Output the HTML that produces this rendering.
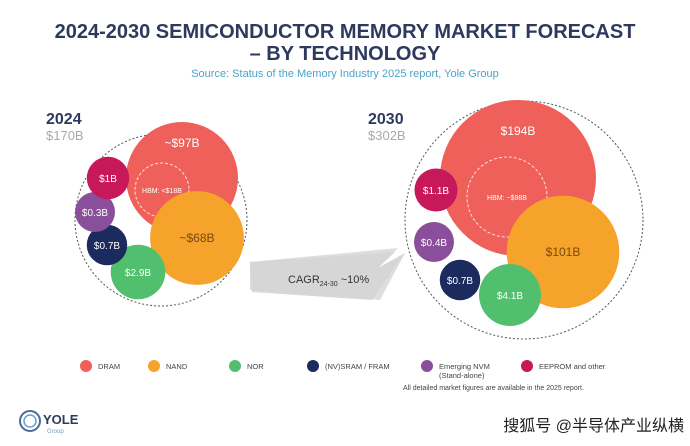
<!DOCTYPE html>
<html><head><meta charset="utf-8">
<style>
body{margin:0;width:690px;height:446px;background:#fff;overflow:hidden;font-family:"Liberation Sans","Noto Sans CJK SC",sans-serif}
svg{display:block}
</style></head>
<body>
<svg id="chart" width="690" height="446" viewBox="0 0 690 446">
<text x="345" y="38" text-anchor="middle" font-size="20" font-weight="bold" fill="#2d3a5e">2024-2030 SEMICONDUCTOR MEMORY MARKET FORECAST</text>
<text x="345" y="60" text-anchor="middle" font-size="20" font-weight="bold" fill="#2d3a5e">– BY TECHNOLOGY</text>
<text x="345" y="77" text-anchor="middle" font-size="11" fill="#4aa3c8">Source: Status of the Memory Industry 2025 report, Yole Group</text>

<text x="46" y="124" font-size="16" font-weight="bold" fill="#2d3a5e">2024</text>
<text x="46" y="140" font-size="13" fill="#aaa">$170B</text>
<text x="368" y="124" font-size="16" font-weight="bold" fill="#2d3a5e">2030</text>
<text x="368" y="140" font-size="13" fill="#aaa">$302B</text>

<polygon points="250,262 395,252 378,268 405,253 372,300 252,292" fill="#d8d8d8"/>
<polygon points="250,262 398,248 378,268 405,253 380,300 250,290" fill="#d6d6d6" opacity="0.8"/>
<text x="288" y="283" font-size="11" fill="#333">CAGR<tspan font-size="7" dy="3">24-30</tspan><tspan dy="-3"> ~10%</tspan></text>

<circle cx="161" cy="220" r="86" fill="none" stroke="#555" stroke-width="1" stroke-dasharray="2,2"/>
<circle cx="524" cy="220" r="119" fill="none" stroke="#555" stroke-width="1" stroke-dasharray="2,2"/>
<g id="bubbles"></g>

<g id="legend"></g>
<text x="403" y="390" font-size="7" fill="#444">All detailed market figures are available in the 2025 report.</text>

<g>
<circle cx="30" cy="421" r="10" fill="none" stroke="#4a6b9a" stroke-width="2"/>
<circle cx="30" cy="421" r="6" fill="none" stroke="#6ca0c8" stroke-width="1.5"/>
<text x="43" y="424" font-size="13" font-weight="bold" fill="#2d3a5e">YOLE</text>
<text x="47" y="433" font-size="6" fill="#6ca0c8">Group</text>
</g>
<text x="684" y="431" text-anchor="end" font-size="16" fill="#222">搜狐号 @半导体产业纵横</text>
</svg>
<script>
const categories=["DRAM","NAND","NOR","(NV)SRAM / FRAM","Emerging NVM","EEPROM and other"];
const colors=["#f0605a","#f5a32a","#52bf6e","#1c2b5e","#8a4f9a","#c6185a"];
const values2024=[97,68,2.9,0.7,0.3,1];
const labels2024=["~$97B","~$68B","$2.9B","$0.7B","$0.3B","$1B"];
const values2030=[194,101,4.1,0.7,0.4,1.1];
const labels2030=["$194B","$101B","$4.1B","$0.7B","$0.4B","$1.1B"];
const hbm2024="HBM: <$18B", hbm2030="HBM: ~$98B";
const layout2024={c:[[182,178],[197,238],[138,272],[107,245],[95,212],[108,178]],big:56,bigRef:97};
const layout2030={c:[[518,178],[563,252],[510,295],[460,280],[434,242],[436,190]],big:78,bigRef:194};
const NS="http://www.w3.org/2000/svg";
const g=document.getElementById("bubbles");
function rad(v,L,i){ if(i<2) return L.big*Math.sqrt(v/L.bigRef); return Math.max(20,Math.min(31,18+v*3.2));}
function draw(vals,labs,L,yr,hbm,hc,hr){
  vals.forEach((v,i)=>{
    const c=document.createElementNS(NS,"circle");
    c.setAttribute("cx",L.c[i][0]);c.setAttribute("cy",L.c[i][1]);
    c.setAttribute("r",rad(v,L,i));c.setAttribute("fill",colors[i]);
    
    
    g.appendChild(c);
    if(i===0){
      const h=document.createElementNS(NS,"circle");
      h.setAttribute("cx",hc[0]);h.setAttribute("cy",hc[1]);h.setAttribute("r",hr);
      h.setAttribute("fill","none");h.setAttribute("stroke","#fff");h.setAttribute("stroke-dasharray","3,2");h.setAttribute("opacity","0.8");
      
      
      g.appendChild(h);
      const ht=document.createElementNS(NS,"text");
      ht.setAttribute("x",hc[0]);ht.setAttribute("y",hc[1]+3);ht.setAttribute("text-anchor","middle");
      ht.setAttribute("font-size","7");ht.setAttribute("fill","#fff");ht.textContent=hbm;
      
      
      g.appendChild(ht);
    }
  });
  vals.forEach((v,i)=>{
    const t=document.createElementNS(NS,"text");
    let y=L.c[i][1]+4; if(i===0) y=L.c[i][1]-L.big*0.55;
    t.setAttribute("x",L.c[i][0]);t.setAttribute("y",y);t.setAttribute("text-anchor","middle");
    t.setAttribute("font-size",i<2?"12":"10");t.setAttribute("fill",i===1?"#7a4a10":"#fff");
    t.textContent=labs[i];
    
    
    g.appendChild(t);
  });
}
draw(values2024,labels2024,layout2024,"2024",hbm2024,[162,190],27);
draw(values2030,labels2030,layout2030,"2030",hbm2030,[507,197],40);
const lg=document.getElementById("legend");
const lx=[86,154,235,313,427,527];
categories.forEach((cat,i)=>{
  const c=document.createElementNS(NS,"circle");
  c.setAttribute("cx",lx[i]);c.setAttribute("cy",366);c.setAttribute("r",6);c.setAttribute("fill",colors[i]);
  
  
  lg.appendChild(c);
  const t=document.createElementNS(NS,"text");
  t.setAttribute("x",lx[i]+12);t.setAttribute("y",369);t.setAttribute("font-size","7.5");t.setAttribute("fill","#444");
  t.textContent=cat;
  
  
  lg.appendChild(t);
});
const sub=document.createElementNS(NS,"text");
sub.setAttribute("x",439);sub.setAttribute("y",378);sub.setAttribute("font-size","7.5");sub.setAttribute("fill","#444");
sub.textContent="(Stand-alone)";


lg.appendChild(sub);
</script>
</body></html>
